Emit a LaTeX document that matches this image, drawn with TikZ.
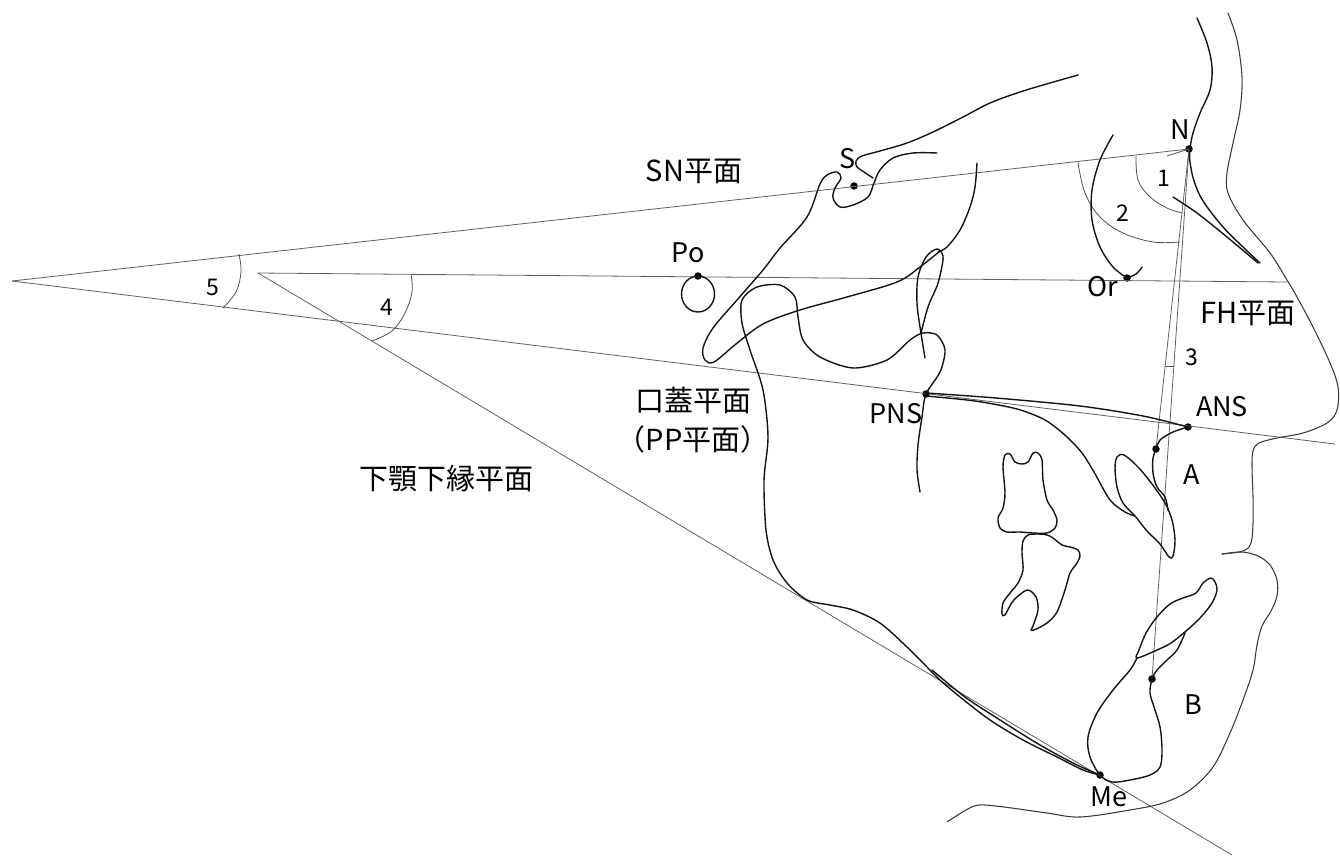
\documentclass[tikz,border=0pt]{standalone}
\usepackage{fontspec}
\setmainfont{Noto Sans CJK JP}
\begin{document}
\begin{tikzpicture}[x=1pt,y=-1pt,
  refline/.style={draw=black!62, line width=0.8pt},
  bone/.style={draw=black!92, line width=1.4pt, line cap=round, line join=round},
  soft/.style={draw=black!78, line width=1.05pt, line cap=round},
  arcline/.style={draw=black!68, line width=0.8pt},
  pt/.style={circle, fill=black, inner sep=0pt, minimum size=7.5pt},
  lbl/.style={inner sep=0pt, font=\fontsize{27}{30}\selectfont},
  jlbl/.style={inner sep=0pt, font=\fontsize{29}{39}\selectfont, align=center},
  num/.style={inner sep=0pt, font=\fontsize{23}{26}\selectfont}]
\useasboundingbox (0,0) rectangle (1340,857);
\fill[white] (0,0) rectangle (1340,857);

% ---- reference points
\coordinate (apex) at (12,281);
\coordinate (FHL) at (258,273);
\coordinate (FHR) at (1287,282);
\coordinate (PPR) at (1335,444);
\coordinate (MPE) at (1232,855);
\node[pt] (N) at (1189,149) {};
\node[pt] (S) at (854,186) {};
\node[pt] (Po) at (698,276) {};
\node[pt] (Or) at (1127,278) {};
\node[pt] (PNS) at (926,394) {};
\node[pt] (ANS) at (1188,427) {};
\node[pt] (A) at (1156,449) {};
\node[pt] (B) at (1152,679) {};
\node[pt] (Me) at (1100,775) {};

% ---- reference planes
\draw[refline] (apex) -- (N.center);
\draw[refline] (apex) -- (PPR);
\draw[refline] (FHL) -- (FHR);
\draw[refline] (FHL) -- (MPE);
\draw[refline] (N.center) -- (A.center);
\draw[refline] (N.center) -- (B.center);

% ---- angle arcs
\draw[arcline] plot[smooth, tension=0.6] coordinates {(239,254) (241,272) (236,292) (223,308)};
\draw[arcline] plot[smooth, tension=0.6] coordinates {(411,274) (412,292) (405,313) (392,331) (372,341)};
\draw[arcline] plot[smooth, tension=0.6] coordinates {(1136,156) (1138,180) (1150,197) (1167,208) (1182,213)};
\draw[arcline] plot[smooth, tension=0.6] coordinates {(1078,163) (1085,193) (1100,217) (1123,233) (1153,242) (1180,242)};
\draw[arcline] (1165,366) -- (1174,366);
\draw[arcline] (1167,156) -- (N.center);

% ---- cranial base, sella, clivus
\draw[bone] plot[smooth, tension=0.55] coordinates {(873,178) (864,172) (857,167) (856,161) (862,156) (880,151) (907,143) (933,132) (963,117) (990,103) (1020,92) (1050,83) (1078,75)};
\draw[bone] plot[smooth, tension=0.55] coordinates {(940,251) (920,267) (897,282) (847,297) (800,310) (763,324) (736,344) (714,362) (705,360) (703,348) (713,328) (737,300) (763,270) (780,248) (807,217) (820,184) (827,175) (837,172) (841,178) (835,188) (833,198) (840,207) (853,205) (868,197) (874,183) (880,170) (893,158) (913,153) (937,153)};
\draw[bone] plot[smooth, tension=0.55] coordinates {(977,163) (975,187) (970,207) (960,230) (947,247) (938,252)};
\draw[bone] plot[smooth, tension=0.55] coordinates {(925,358) (920,327) (917,303) (918,277) (926,257) (937,249) (943,256) (941,271) (937,286) (928,307) (921,333)};

% ---- ear rod
\draw[bone] (698,294) ellipse [x radius=16.5, y radius=18];

% ---- frontal / nasal bone, orbit
\draw[bone] plot[smooth, tension=0.55] coordinates {(1197,18) (1207,43) (1212,67) (1210,90) (1200,113) (1193,133) (1190,149) (1190,162) (1194,181) (1203,201) (1223,227) (1243,247) (1260,263)};
\draw[bone] plot[smooth, tension=0.5] coordinates {(1173,197) (1197,213) (1227,237) (1258,263)};
\draw[bone] plot[smooth, tension=0.55] coordinates {(1113,135) (1100,160) (1092,190) (1092,220) (1100,247) (1113,267) (1127,278)};
\draw[bone] plot[smooth, tension=0.6] coordinates {(1127,278) (1136,274) (1142,267)};

% ---- mandible, ramus, pterygoid
\draw[bone] plot[smooth, tension=0.5] coordinates {(1100,775) (1083,770) (1057,757) (1023,740) (990,720) (960,697) (940,680) (927,667) (907,647) (880,623) (853,610) (830,605) (807,600) (787,583) (773,560) (766,530) (764,480) (768,437) (763,390) (750,350) (742,323) (742,300) (757,287) (780,285) (795,297) (798,317) (803,340) (820,357) (853,368) (887,360) (910,340) (923,333) (937,335) (945,350) (940,372) (926,394) (922,417) (918,445) (917,470) (920,492)};
\draw[bone] plot[smooth, tension=0.5] coordinates {(932,670) (965,697) (1000,720) (1040,745) (1075,764) (1100,775)};

% ---- palate
\draw[bone] plot[smooth, tension=0.5] coordinates {(926,393) (996,398) (1080,406) (1143,416) (1188,427)};
\draw[bone] plot[smooth, tension=0.5] coordinates {(926,396) (975,401) (1017,409) (1045,420) (1066,436) (1082,453) (1094,472) (1110,500) (1125,512) (1135,516)};
\draw[bone] plot[smooth, tension=0.55] coordinates {(1188,427) (1173,432) (1160,440) (1156,449) (1153,458) (1153,473) (1157,487) (1165,497) (1168,510)};

% ---- incisors
\draw[bone] plot[smooth cycle, tension=0.55] coordinates {(1117,457) (1124,455) (1138,467) (1152,484) (1165,503) (1172,520) (1175,540) (1173,556) (1169,557) (1160,544) (1147,531) (1135,516) (1123,503) (1117,487) (1115,468)};
\draw[bone] plot[smooth cycle, tension=0.55] coordinates {(1215,582) (1211,578) (1203,583) (1196,593) (1183,598) (1170,604) (1157,617) (1146,633) (1139,650) (1137,658) (1157,650) (1171,643) (1186,631) (1200,618) (1212,603) (1217,590)};

% ---- symphysis
\draw[bone] plot[smooth, tension=0.55] coordinates {(1137,658) (1130,670) (1113,690) (1097,713) (1088,737) (1090,757) (1100,775) (1112,782) (1130,780) (1150,775) (1160,767) (1162,750) (1160,727) (1154,707) (1150,693) (1152,679) (1157,670) (1167,660) (1177,650) (1185,633)};

% ---- molars
\draw[bone] plot[smooth cycle, tension=0.5] coordinates {(1005,455) (1010,454) (1015,462) (1022,464) (1028,462) (1033,453) (1038,453) (1042,460) (1043,480) (1047,500) (1053,510) (1057,520) (1055,528) (1047,533) (1033,533) (1020,532) (1007,532) (1000,528) (998,518) (1003,508) (1005,493) (1003,467)};
\draw[bone] plot[smooth cycle, tension=0.5] coordinates {(1028,535) (1023,541) (1022,553) (1023,570) (1018,583) (1010,593) (1003,603) (1002,614) (1005,615) (1013,601) (1027,590) (1036,597) (1038,610) (1033,626) (1031,630) (1034,630) (1047,623) (1057,612) (1065,590) (1070,573) (1077,563) (1080,556) (1078,550) (1070,547) (1062,545) (1053,538) (1047,535) (1038,534)};

% ---- soft tissue profile
\draw[soft] plot[smooth, tension=0.55] coordinates {(1228,13) (1237,40) (1242,77) (1240,110) (1233,143) (1227,173) (1228,193) (1243,220) (1270,253) (1287,280) (1297,297) (1313,327) (1330,363) (1338,387) (1337,410) (1327,423) (1303,433) (1277,438) (1259,443) (1253,451) (1252,467) (1253,497) (1253,523) (1251,543) (1243,551) (1222,554)};
\draw[soft] plot[smooth, tension=0.55] coordinates {(1222,554) (1242,552) (1258,556) (1270,565) (1277,580) (1277,596) (1271,611) (1262,626) (1257,645) (1253,670) (1243,700) (1230,733) (1213,767) (1190,790) (1163,803) (1130,810) (1080,817) (1047,813) (1004,807) (979,805) (966,810) (947,822)};

% ---- labels
\node[jlbl] (tSN) at (694,171) {SN平面};
\node[lbl] (tPo) at (688,253) {Po};
\node[lbl] (tS) at (848,159) {S};
\node[lbl] (tN) at (1180,130) {N};
\node[num] (t1) at (1164,178) {1};
\node[num] (t2) at (1123,213) {2};
\node[lbl] (tOr) at (1103,287) {Or};
\node[jlbl] (tFH) at (1248,313) {FH平面};
\node[num] (t3) at (1192,357) {3};
\node[lbl] (tANS) at (1222,407) {ANS};
\node[lbl] (tPNS) at (896,414) {PNS};
\node[lbl] (tA) at (1192,475) {A};
\node[lbl] (tB) at (1193,705) {B};
\node[lbl] (tMe) at (1109,797) {Me};
\node[jlbl] (tPP) at (693,420) {口蓋平面\\（PP平面）};
\node[jlbl] (tMP) at (446,478) {下顎下縁平面};
\node[num] (t4) at (387,307) {4};
\node[num] (t5) at (213,287) {5};
\end{tikzpicture}
\end{document}
